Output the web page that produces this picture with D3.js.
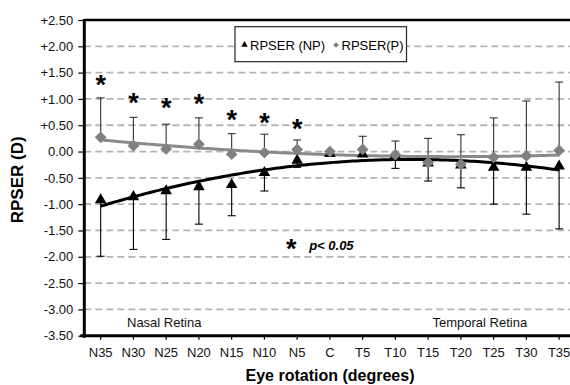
<!DOCTYPE html>
<html>
<head>
<meta charset="utf-8">
<script src="https://cdn.jsdelivr.net/npm/d3@7"></script>
<style>
  html, body { margin: 0; padding: 0; background: #fff; }
  svg { display: block; font-family: "Liberation Sans", Arial, Helvetica, sans-serif; }
</style>
</head>
<body>
<svg id="chart" width="570" height="385"></svg>
<script>
// Eye rotation positions (nasal -> centre -> temporal)
const categories = ["N35","N30","N25","N20","N15","N10","N5","C","T5","T10","T15","T20","T25","T30","T35"];

// Relative peripheral spherical equivalent refraction (D)
const npValues = [-0.92,-0.86,-0.75,-0.67,-0.63,-0.40,-0.17,-0.04,-0.05,-0.08,-0.22,-0.26,-0.30,-0.30,-0.28];
const pValues  = [ 0.27, 0.11, 0.05, 0.14,-0.05,-0.02, 0.04, 0.00, 0.04,-0.06,-0.21,-0.24,-0.11,-0.08, 0.02];

// One-sided standard deviations: NP drawn downward, P drawn upward
const npErr = [1.07,1.00,0.92,0.71,0.59,0.35,0.13,0,0,0.24,0.34,0.43,0.70,0.89,1.19];
const pErr  = [0.75,0.54,0.47,0.50,0.39,0.35,0.18,0,0.25,0.26,0.46,0.56,0.75,1.04,1.30];

// Significance markers (category, height in D)
const sigCats   = ["N35","N30","N25","N20","N15","N10","N5"];
const sigLevels = [1.38, 1.03, 0.94, 1.01, 0.71, 0.65, 0.54];

// Y axis ticks
const yTicks = [2.5,2.0,1.5,1.0,0.5,0,-0.5,-1.0,-1.5,-2.0,-2.5,-3.0,-3.5];
const yTickLabels = ["+2.50","+2.00","+1.50","+1.00","+0.50","0.00","-0.50","-1.00","-1.50","-2.00","-2.50","-3.00","-3.50"];

const svg = d3.select("#chart");
const plotL = 84.3, plotR = 575.5, plotT = 20, plotB = 335.7;

const x = d3.scaleBand().domain(categories).range([plotL, plotR]).paddingInner(0).paddingOuter(0);
const cx = c => x(c) + x.bandwidth() / 2;
const y = d3.scaleLinear().domain([-3.5, 2.5]).range([plotB, plotT]);

// Dashed gridlines
svg.append("g").selectAll("line")
  .data(yTicks.filter(v => v < 2.5 && v > -3.5))
  .join("line")
  .attr("x1", plotL).attr("x2", 570)
  .attr("y1", d => y(d)).attr("y2", d => y(d))
  .attr("stroke", "#b4b4b4").attr("stroke-width", 1.8)
  .attr("stroke-dasharray", "7,4");

// Top frame line
svg.append("line").attr("x1", plotL).attr("x2", 570)
  .attr("y1", y(2.5)).attr("y2", y(2.5))
  .attr("stroke", "#000").attr("stroke-width", 2.5);

// Y axis
const yAxis = d3.axisLeft(y).tickValues(yTicks)
  .tickFormat((d, i) => yTickLabels[i]).tickSizeInner(6).tickSizeOuter(0).tickPadding(5);
const gy = svg.append("g").attr("transform", `translate(${plotL},0)`).call(yAxis);
gy.select(".domain").attr("stroke-width", 3).attr("d", `M0,${plotT - 1}V${plotB + 2}`);
gy.selectAll(".tick line").attr("stroke-width", 1.2);
gy.selectAll(".tick text").attr("font-size", 13).attr("fill", "#111")
  .style("font-family", "'Liberation Sans', Arial, sans-serif");

// X axis
const xAxis = d3.axisBottom(x).tickSizeInner(4).tickSizeOuter(0).tickPadding(8);
const gx = svg.append("g").attr("transform", `translate(0,${plotB})`).call(xAxis);
gx.select(".domain").attr("stroke-width", 3).attr("d", `M${plotL - 4},0H570`);
gx.selectAll(".tick line").attr("stroke-width", 1.2);
gx.selectAll(".tick text").attr("font-size", 13).attr("fill", "#111")
  .style("font-family", "'Liberation Sans', Arial, sans-serif");

// Error bars
const cap = 4;
function errorBars(vals, errs, dir, colour) {
  const g = svg.append("g").attr("stroke", colour).attr("stroke-width", 1.1).attr("fill", "none");
  categories.forEach((c, i) => {
    if (!errs[i]) return;
    const end = vals[i] + dir * errs[i];
    g.append("line").attr("x1", cx(c)).attr("x2", cx(c)).attr("y1", y(vals[i])).attr("y2", y(end));
    g.append("line").attr("x1", cx(c) - cap).attr("x2", cx(c) + cap).attr("y1", y(end)).attr("y2", y(end));
  });
}
errorBars(npValues, npErr, -1, "#000");
errorBars(pValues, pErr, 1, "#333");

// Second-order polynomial trend lines fitted by least squares
function polyFit(ys, order) {
  const n = order + 1;
  const A = Array.from({length: n}, () => new Array(n + 1).fill(0));
  ys.forEach((v, xi) => {
    for (let r = 0; r < n; r++) {
      for (let c = 0; c < n; c++) A[r][c] += Math.pow(xi, r + c);
      A[r][n] += v * Math.pow(xi, r);
    }
  });
  for (let i = 0; i < n; i++) {
    let p = i;
    for (let k = i + 1; k < n; k++) if (Math.abs(A[k][i]) > Math.abs(A[p][i])) p = k;
    [A[i], A[p]] = [A[p], A[i]];
    for (let k = i + 1; k < n; k++) {
      const f = A[k][i] / A[i][i];
      for (let j = i; j <= n; j++) A[k][j] -= f * A[i][j];
    }
  }
  const coef = new Array(n).fill(0);
  for (let i = n - 1; i >= 0; i--) {
    let s = A[i][n];
    for (let j = i + 1; j < n; j++) s -= A[i][j] * coef[j];
    coef[i] = s / A[i][i];
  }
  return t => coef.reduce((acc, a, k) => acc + a * Math.pow(t, k), 0);
}
const idx = d3.scaleLinear().domain([0, categories.length - 1])
  .range([cx(categories[0]), cx(categories[categories.length - 1])]);
function trend(vals, colour) {
  const f = polyFit(vals, 2);
  const pts = d3.range(0, vals.length - 1 + 0.001, 0.1).map(t => [idx(t), y(f(t))]);
  svg.append("path").attr("d", d3.line()(pts))
    .attr("fill", "none").attr("stroke", colour).attr("stroke-width", 3);
}
trend(npValues, "#000");
trend(pValues, "#8a8a8a");

// Markers
svg.append("g").selectAll("path").data(categories).join("path")
  .attr("transform", (c, i) => `translate(${cx(c)},${y(npValues[i])})`)
  .attr("d", d3.symbol(d3.symbolTriangle, 58))
  .attr("fill", "#000");
svg.append("g").selectAll("path").data(categories).join("path")
  .attr("transform", (c, i) => `translate(${cx(c)},${y(pValues[i])}) rotate(45)`)
  .attr("d", d3.symbol(d3.symbolSquare, 70))
  .attr("fill", "#808080");

// Significance asterisks
svg.append("g").selectAll("text").data(sigCats).join("text")
  .attr("x", c => cx(c))
  .attr("y", (c, i) => y(sigLevels[i]) + 15)
  .attr("text-anchor", "middle").attr("font-size", 27).attr("font-weight", "bold")
  .text("*");

// Significance key
svg.append("text").attr("x", cx("N5") - 6).attr("y", y(-1.74) + 15)
  .attr("text-anchor", "middle").attr("font-size", 27).attr("font-weight", "bold").text("*");
svg.append("text").attr("x", cx("N5") + 12).attr("y", y(-1.88))
  .attr("font-size", 13).attr("font-weight", "bold").attr("font-style", "italic").text("p< 0.05");

// Region labels
svg.append("text").attr("x", 127).attr("y", y(-3.25) + 4.5)
  .attr("font-size", 13).attr("fill", "#111").text("Nasal Retina");
svg.append("text").attr("x", 432.5).attr("y", y(-3.25) + 4.5)
  .attr("font-size", 13).attr("fill", "#111").text("Temporal Retina");

// Legend
const lg = svg.append("g");
lg.append("rect").attr("x", 235).attr("y", 26.7).attr("width", 171.5).attr("height", 35)
  .attr("fill", "#fff").attr("stroke", "#222").attr("stroke-width", 1.2);
lg.append("path").attr("transform", "translate(244.5,44.8)")
  .attr("d", d3.symbol(d3.symbolTriangle, 18)).attr("fill", "#000");
lg.append("text").attr("x", 250).attr("y", 49.5).attr("font-size", 13).text("RPSER (NP)");
lg.append("path").attr("transform", "translate(336,45) rotate(45)")
  .attr("d", d3.symbol(d3.symbolSquare, 16)).attr("fill", "#808080");
lg.append("text").attr("x", 341.5).attr("y", 49.5).attr("font-size", 13).text("RPSER(P)");

// Axis titles
svg.append("text").attr("x", 330).attr("y", 381)
  .attr("text-anchor", "middle").attr("font-size", 16).attr("font-weight", "bold")
  .text("Eye rotation (degrees)");
svg.append("text").attr("transform", `translate(23,${(plotT + plotB) / 2 + 2}) rotate(-90)`)
  .attr("text-anchor", "middle").attr("font-size", 17).attr("font-weight", "bold")
  .text("RPSER (D)");
</script>
</body>
</html>
